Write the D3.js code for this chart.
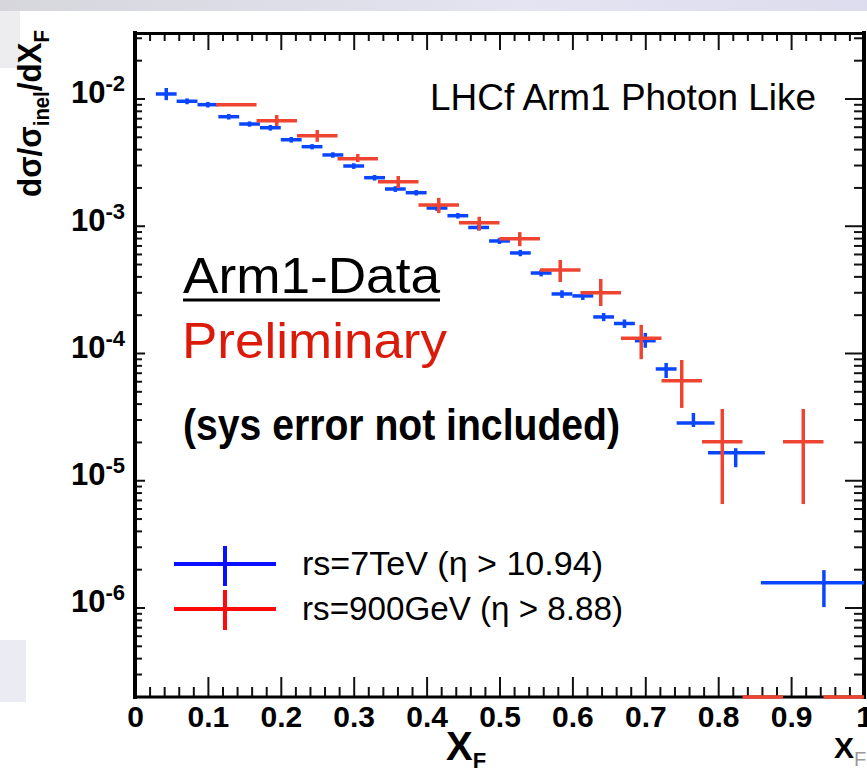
<!DOCTYPE html>
<html>
<head>
<meta charset="utf-8">
<script src="https://cdn.jsdelivr.net/npm/d3@7"></script>
<style>
  html, body { margin: 0; padding: 0; background: #fff; }
  svg { display: block; }
  text { font-family: "Liberation Sans", Arial, Helvetica, sans-serif; }
</style>
</head>
<body>
<svg id="chart" width="867" height="775"></svg>
<script>
// ---- sqrt(s) = 7 TeV, photon-like events (xF bin centre, bin edges, dσ/σ/dxF, stat. error)
const blueX  = [0.0429, 0.0714, 0.1000, 0.1286, 0.1571, 0.1857, 0.2143, 0.2429, 0.2714, 0.3000,
                0.3286, 0.3571, 0.3857, 0.4143, 0.4429, 0.4714, 0.5000, 0.5286, 0.5571, 0.5857,
                0.6143, 0.6429, 0.6714, 0.7000, 0.7286, 0.7660, 0.8240, 0.9450];
const blueLo = [0.0286, 0.0571, 0.0857, 0.1143, 0.1429, 0.1714, 0.2000, 0.2286, 0.2571, 0.2857,
                0.3143, 0.3429, 0.3714, 0.4000, 0.4286, 0.4571, 0.4857, 0.5143, 0.5429, 0.5714,
                0.6000, 0.6286, 0.6571, 0.6857, 0.7143, 0.7430, 0.7860, 0.8585];
const blueHi = [0.0571, 0.0857, 0.1143, 0.1429, 0.1714, 0.2000, 0.2286, 0.2571, 0.2857, 0.3143,
                0.3429, 0.3714, 0.4000, 0.4286, 0.4571, 0.4857, 0.5143, 0.5429, 0.5714, 0.6000,
                0.6286, 0.6571, 0.6857, 0.7143, 0.7429, 0.7950, 0.8640, 1.0000];
const blueY  = [0.01085, 0.00951, 0.00894, 0.00719, 0.00630, 0.00589, 0.00474, 0.00418, 0.00360, 0.002947,
                0.002385, 0.001944, 0.001818, 0.001378, 0.001199, 0.000969, 0.000759, 0.000611, 0.000425, 0.000291,
                0.000281, 0.000192, 0.0001705, 0.0001249, 0.0000749, 0.0000282, 0.00001646, 0.000001567];
const blueErrLo = [0.00115, 0.0005, 0.00045, 0.00036, 0.0003, 0.0003, 0.00024, 0.0002, 0.00018, 0.00015,
                   0.00012, 0.0001, 0.00009, 0.00007, 0.00006, 0.00005, 0.00004, 0.000035, 0.000025, 0.00002,
                   0.00002, 0.000014, 0.000013, 0.000015, 0.0000113, 0.000002, 0.0000038, 0.00000056];
const blueErrHi = [0.00124, 0.0005, 0.00045, 0.00036, 0.0003, 0.0003, 0.00024, 0.0002, 0.00018, 0.00015,
                   0.00012, 0.0001, 0.00009, 0.00007, 0.00006, 0.00005, 0.00004, 0.000035, 0.000025, 0.00002,
                   0.00002, 0.000014, 0.000013, 0.000019, 0.0000086, 0.0000056, 0.0000014, 0.0000004];

// ---- sqrt(s) = 900 GeV (zero entries sit on the lower frame)
const redX  = [0.1389, 0.1944, 0.2500, 0.3056, 0.3611, 0.4167, 0.4722, 0.5278,
               0.5833, 0.6389, 0.6944, 0.7500, 0.8056, 0.8611, 0.9167, 0.9722];
const redLo = [0.1111, 0.1667, 0.2222, 0.2778, 0.3333, 0.3889, 0.4444, 0.5000,
               0.5556, 0.6111, 0.6667, 0.7222, 0.7778, 0.8333, 0.8889, 0.9444];
const redHi = [0.1667, 0.2222, 0.2778, 0.3333, 0.3889, 0.4444, 0.5000, 0.5556,
               0.6111, 0.6667, 0.7222, 0.7778, 0.8333, 0.8889, 0.9444, 1.0000];
const redY  = [0.00894, 0.00669, 0.0051, 0.003363, 0.002219, 0.001456, 0.001057, 0.000791,
               0.000449, 0.000298, 0.0001304, 0.0000606, 0.0000201, 0, 0.0000201, 0];
const redErrLo = [0.0002, 0.00061, 0.00053, 0.0002, 0.00024, 0.0002, 0.00014, 0.0001,
                  0.000088, 0.000064, 0.000041, 0.0000236, 0.0000136, 0, 0.0000136, 0];
const redErrHi = [0.0002, 0.00073, 0.00055, 0.0003, 0.00024, 0.0002, 0.00012, 0.0001,
                  0.000089, 0.000084, 0.000036, 0.0000275, 0.0000162, 0, 0.0000162, 0];

// ---- axis ticks and labels
const xMajor = [0, 0.1, 0.2, 0.3, 0.4, 0.5, 0.6, 0.7, 0.8, 0.9, 1];
const xLabels = ["0", "0.1", "0.2", "0.3", "0.4", "0.5", "0.6", "0.7", "0.8", "0.9", "1"];
const xMinor = [0.02, 0.04, 0.06, 0.08, 0.12, 0.14, 0.16, 0.18, 0.22, 0.24, 0.26, 0.28,
                0.32, 0.34, 0.36, 0.38, 0.42, 0.44, 0.46, 0.48, 0.52, 0.54, 0.56, 0.58,
                0.62, 0.64, 0.66, 0.68, 0.72, 0.74, 0.76, 0.78, 0.82, 0.84, 0.86, 0.88,
                0.92, 0.94, 0.96, 0.98];
const yDecades = [1e-2, 1e-3, 1e-4, 1e-5, 1e-6];
const yExponents = ["-2", "-3", "-4", "-5", "-6"];
const yMantissas = [2, 3, 4, 5, 6, 7, 8, 9];

const legendLabels = ["rs=7TeV (\u03B7 > 10.94)", "rs=900GeV (\u03B7 > 8.88)"];

// ---------------------------------------------------------------------
const svg = d3.select("#chart");
const x = d3.scaleLinear().domain([0, 1]).range([135, 864]);
const y = d3.scaleLog().domain([1.98e-7, 0.0333]).range([697, 32]);

const C_BLUE = "#0a46ff", C_RED = "#ee4431";
const L_BLUE = "#0a10ff", L_RED = "#ff0a0a";

// slide background remnants around the pad
const bg = svg.append("g");
const gTop = svg.append("defs").append("linearGradient").attr("id", "topband")
  .attr("x1", 0).attr("x2", 1).attr("y1", 0).attr("y2", 0);
gTop.append("stop").attr("offset", 0).attr("stop-color", "#d6d6dc");
gTop.append("stop").attr("offset", 0.6).attr("stop-color", "#e4e4f2");
gTop.append("stop").attr("offset", 1).attr("stop-color", "#dcdcee");
bg.append("rect").attr("x", 0).attr("y", 0).attr("width", 867).attr("height", 11).attr("fill", "url(#topband)");
bg.append("rect").attr("x", 0).attr("y", 11).attr("width", 20).attr("height", 57).attr("fill", "#ededef");
bg.append("rect").attr("x", 0).attr("y", 640).attr("width", 26).attr("height", 62).attr("fill", "#ebebf3");

// minor/major tick sets for the log axis
const yMinor = [];
[-7, -6, -5, -4, -3, -2].forEach(e => yMantissas.forEach(m => {
  const v = m * Math.pow(10, e);
  if (v > y.domain()[0] && v < y.domain()[1]) yMinor.push(v);
}));

const axes = svg.append("g");
function tickAxis(axis, tx, ty, values, size) {
  const g = axes.append("g").attr("transform", `translate(${tx},${ty})`)
    .call(axis.tickValues(values).tickSize(size).tickFormat(""));
  g.select(".domain").remove();
  g.selectAll(".tick line").attr("stroke", "#111").attr("stroke-width", 2);
  return g;
}
// bottom, top, left, right ticks (all pointing into the frame)
tickAxis(d3.axisTop(x), 0, 697, xMajor, 20);
tickAxis(d3.axisTop(x), 0, 697, xMinor, 10);
tickAxis(d3.axisBottom(x), 0, 33, xMajor, 17);
tickAxis(d3.axisBottom(x), 0, 33, xMinor, 8);
tickAxis(d3.axisRight(y), 135, 0, yDecades, 10);
tickAxis(d3.axisRight(y), 135, 0, yMinor, 7);
tickAxis(d3.axisLeft(y), 864, 0, yDecades, 19);
tickAxis(d3.axisLeft(y), 864, 0, yMinor, 10);

// x tick labels
const xl = axes.append("g").attr("transform", "translate(0,697)")
  .call(d3.axisBottom(x).tickValues(xMajor).tickSize(0).tickPadding(9)
        .tickFormat((d, i) => xLabels[i]));
xl.select(".domain").remove();
xl.selectAll("text").attr("font-size", 30).attr("font-weight", "bold")
  .attr("fill", "#000").attr("font-family", "Liberation Sans, Arial, sans-serif");

// y tick labels 10^n
yDecades.forEach((v, i) => {
  const t = axes.append("text").attr("x", 125).attr("y", y(v) + 5)
    .attr("text-anchor", "end").attr("font-weight", "bold").attr("fill", "#000");
  t.append("tspan").attr("font-size", 31).text("10");
  t.append("tspan").attr("font-size", 22).attr("dy", -12).text(yExponents[i]);
});

// frame
const fr = svg.append("g").attr("stroke", "#000").attr("stroke-linecap", "square");
fr.append("line").attr("x1", 135).attr("x2", 135).attr("y1", 33).attr("y2", 697).attr("stroke-width", 4);
fr.append("line").attr("x1", 864).attr("x2", 864).attr("y1", 33).attr("y2", 697).attr("stroke-width", 4);
fr.append("line").attr("x1", 135).attr("x2", 864).attr("y1", 33.5).attr("y2", 33.5).attr("stroke-width", 3);
fr.append("line").attr("x1", 135).attr("x2", 864).attr("y1", 697).attr("y2", 697).attr("stroke-width", 3);

// data points with error crosses
function drawSeries(xs, lo, hi, ys, eLo, eHi, color) {
  const g = svg.append("g").attr("stroke", color).attr("stroke-width", 3.5);
  const pts = xs.map((d, i) => ({ x: d, lo: lo[i], hi: hi[i], v: ys[i], el: eLo[i], eh: eHi[i] }));
  g.selectAll("line.h").data(pts).join("line").attr("class", "h")
    .attr("x1", d => x(d.lo)).attr("x2", d => x(d.hi))
    .attr("y1", d => d.v > 0 ? y(d.v) : y.range()[0])
    .attr("y2", d => d.v > 0 ? y(d.v) : y.range()[0]);
  g.selectAll("line.v").data(pts.filter(d => d.v > 0)).join("line").attr("class", "v")
    .attr("x1", d => x(d.x)).attr("x2", d => x(d.x))
    .attr("y1", d => y(d.v + d.eh))
    .attr("y2", d => y(Math.max(d.v - d.el, y.domain()[0])));
}
drawSeries(blueX, blueLo, blueHi, blueY, blueErrLo, blueErrHi, C_BLUE);
drawSeries(redX, redLo, redHi, redY, redErrLo, redErrHi, C_RED);

// texts
function fitText(sel, w) { return sel.attr("textLength", w).attr("lengthAdjust", "spacingAndGlyphs"); }

fitText(svg.append("text").attr("x", 430).attr("y", 110).attr("font-size", 36).attr("fill", "#000")
  .text("LHCf Arm1 Photon Like"), 386);

fitText(svg.append("text").attr("x", 183).attr("y", 293).attr("font-size", 50).attr("fill", "#000")
  .text("Arm1-Data"), 257);
svg.append("rect").attr("x", 183).attr("y", 298.5).attr("width", 257).attr("height", 3).attr("fill", "#000");

fitText(svg.append("text").attr("x", 182).attr("y", 358).attr("font-size", 50).attr("fill", "#dc1a0a")
  .text("Preliminary"), 265);

fitText(svg.append("text").attr("x", 183).attr("y", 440).attr("font-size", 44).attr("font-weight", "bold")
  .attr("fill", "#000").text("(sys error not included)"), 437);

// legend
const leg = svg.append("g");
[[L_BLUE, 564, 546, 586, 575, 301], [L_RED, 609, 590, 630, 620, 321]].forEach((s, i) => {
  leg.append("line").attr("x1", 174).attr("x2", 276).attr("y1", s[1]).attr("y2", s[1])
    .attr("stroke", s[0]).attr("stroke-width", 4);
  leg.append("line").attr("x1", 225).attr("x2", 225).attr("y1", s[2]).attr("y2", s[3])
    .attr("stroke", s[0]).attr("stroke-width", 4);
  fitText(leg.append("text").attr("x", 302).attr("y", s[4]).attr("font-size", 33).attr("fill", "#000")
    .text(legendLabels[i]), s[5]);
});

// axis titles
const xt = svg.append("text").attr("x", 446).attr("y", 760).attr("font-weight", "bold").attr("fill", "#000");
xt.append("tspan").attr("font-size", 40).text("X");
xt.append("tspan").attr("font-size", 22).attr("dy", 8).text("F");

const xt2 = svg.append("text").attr("x", 834).attr("y", 758).attr("fill", "#000");
xt2.append("tspan").attr("font-size", 30).attr("font-weight", "bold").text("X");
xt2.append("tspan").attr("font-size", 20).attr("dy", 8).attr("fill", "#999").text("F");

const yt = svg.append("text").attr("font-weight", "bold").attr("fill", "#000");
yt.append("tspan").attr("font-size", 34).text("d\u03C3/\u03C3");
yt.append("tspan").attr("font-size", 22).attr("dy", 8).text("inel");
yt.append("tspan").attr("font-size", 34).attr("dy", -8).text("/dX");
yt.append("tspan").attr("font-size", 22).attr("dy", 8).text("F");
const ytw = yt.node().getComputedTextLength();
yt.attr("transform", `translate(41,197) rotate(-90) scale(${167 / ytw},1)`);
</script>
</body>
</html>
